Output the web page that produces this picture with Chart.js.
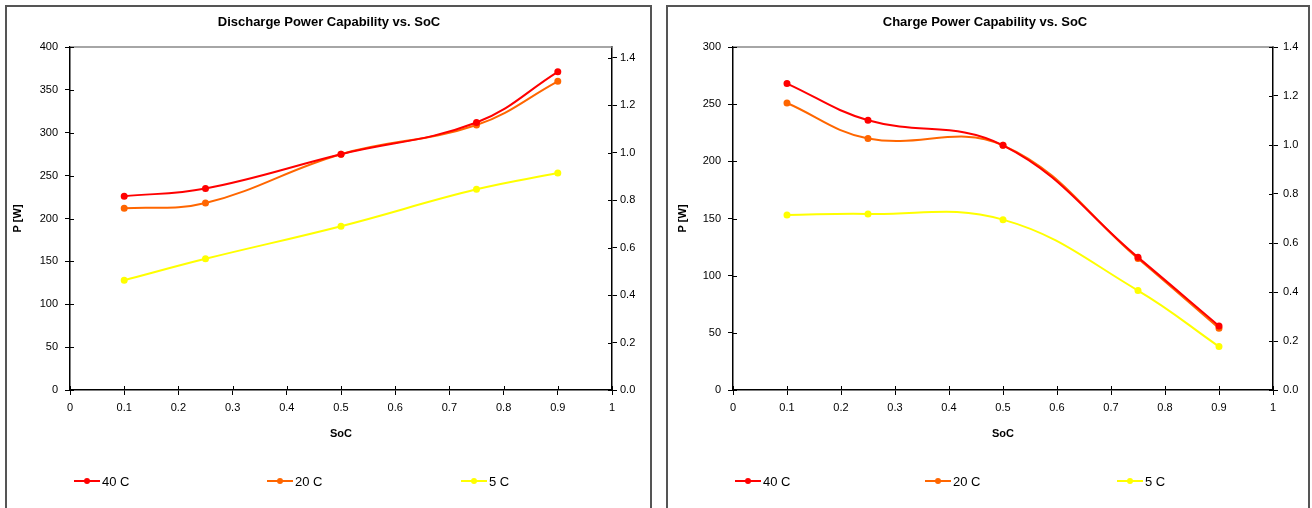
<!DOCTYPE html>
<html>
<head>
<meta charset="utf-8">
<script src="https://cdn.jsdelivr.net/npm/chart.js@4/dist/chart.umd.min.js"></script>
<style>
  html, body { margin: 0; padding: 0; background: #fff; }
  body { position: relative; width: 1312px; height: 508px; overflow: hidden; }
  .panel { position: absolute; top: 5px; height: 560px; border: 2px solid #555; box-sizing: border-box; }
  canvas { position: absolute; top: 0; }
</style>
</head>
<body>
<div class="panel" style="left:5px; width:647px;"></div>
<div class="panel" style="left:666px; width:644px;"></div>
<canvas id="dischargeChart" width="658" height="508" style="left:0"></canvas>
<canvas id="chargeChart" width="654" height="508" style="left:658px"></canvas>
<script>
// data
const socValues = [0.1, 0.25, 0.5, 0.75, 0.9];
const seriesNames = ["40 C", "20 C", "5 C"];
const seriesColors = ["#FF0000", "#FF6600", "#FFFF00"];

const discharge40 = [226, 235, 275, 312, 371];
const discharge20 = [212, 218, 275, 309, 360];
const discharge5 = [128, 153, 191, 234, 253];

const charge40 = [268, 236, 214, 116, 56];
const charge20 = [251, 220, 214, 115, 54];
const charge5 = [153, 154, 149, 87, 38];

const socTicks = [0, 0.1, 0.2, 0.3, 0.4, 0.5, 0.6, 0.7, 0.8, 0.9, 1];
const dischargeTicks = [0, 50, 100, 150, 200, 250, 300, 350, 400];
const chargeTicks = [0, 50, 100, 150, 200, 250, 300];
const rightTicks = [0, 0.2, 0.4, 0.6, 0.8, 1.0, 1.2, 1.4];

const FONT = "'Liberation Sans', Arial, sans-serif";

// Excel-like legend: line with marker, fixed x positions
const excelLegend = {
  id: "excelLegend",
  afterDraw(chart, args, opts) {
    const ctx = chart.ctx;
    ctx.save();
    chart.data.datasets.forEach((ds, i) => {
      const x = opts.x[i], y = opts.y;
      ctx.strokeStyle = ds.borderColor;
      ctx.lineWidth = 2;
      ctx.beginPath();
      ctx.moveTo(x, y);
      ctx.lineTo(x + 26, y);
      ctx.stroke();
      ctx.fillStyle = ds.borderColor;
      ctx.beginPath();
      ctx.arc(x + 13, y, 3, 0, Math.PI * 2);
      ctx.fill();
      ctx.fillStyle = "#000";
      ctx.font = "13px " + FONT;
      ctx.textBaseline = "middle";
      ctx.fillText(ds.label, x + 28, y + 1);
    });
    ctx.restore();
  }
};

// tick marks crossing into the plot area + grey top edge
const plotFrame = {
  id: "plotFrame",
  beforeDatasetsDraw(chart) {
    const ctx = chart.ctx;
    const a = chart.chartArea;
    ctx.save();
    ctx.strokeStyle = "#888";
    ctx.lineWidth = 1.5;
    ctx.beginPath();
    ctx.moveTo(a.left, a.top);
    ctx.lineTo(a.right, a.top);
    ctx.stroke();
    ctx.strokeStyle = "#000";
    ctx.lineWidth = 1;
    ctx.beginPath();
    chart.scales.x.ticks.forEach(t => {
      const px = Math.round(chart.scales.x.getPixelForValue(t.value)) + 0.5;
      ctx.moveTo(px, a.bottom);
      ctx.lineTo(px, a.bottom - 4);
    });
    chart.scales.y.ticks.forEach(t => {
      const py = Math.round(chart.scales.y.getPixelForValue(t.value)) + 0.5;
      ctx.moveTo(a.left, py);
      ctx.lineTo(a.left + 4, py);
    });
    chart.scales.y2.ticks.forEach(t => {
      const py = Math.round(chart.scales.y2.getPixelForValue(t.value)) + 0.5;
      ctx.moveTo(a.right, py);
      ctx.lineTo(a.right - 4, py);
    });
    ctx.stroke();
    ctx.restore();
  }
};

function makeDatasets(values) {
  return values.map((vals, i) => ({
    label: seriesNames[i],
    data: socValues.map((s, j) => ({ x: s, y: vals[j] })),
    borderColor: seriesColors[i],
    backgroundColor: seriesColors[i],
    borderWidth: 2,
    pointRadius: 2.5,
    pointHoverRadius: 2.5,
    tension: 0.4,
    yAxisID: "y"
  }));
}

function makeConfig(title, values, leftTicks, leftMax, rightMax, lay) {
  const tickFont = { family: FONT, size: 11 };
  const axisTitleFont = { family: FONT, size: 11, weight: "bold" };
  return {
    type: "line",
    data: { datasets: makeDatasets(values) },
    options: {
      responsive: false,
      animation: false,
      events: [],
      layout: { padding: 0 },
      plugins: {
        legend: { display: false },
        tooltip: { enabled: false },
        title: {
          display: true,
          text: title,
          color: "#000",
          font: { family: FONT, size: 13, weight: "bold" },
          padding: { top: 15, bottom: 16.4 }
        },
        excelLegend: { x: lay.legendX, y: 481 }
      },
      scales: {
        x: {
          type: "linear",
          min: 0,
          max: 1,
          afterBuildTicks: axis => { axis.ticks = socTicks.map(v => ({ value: v })); },
          afterFit: scale => { scale.height = 118; },
          grid: { drawOnChartArea: false, color: "#000", tickLength: 5 },
          border: { color: "#000", width: 1.5 },
          ticks: { color: "#000", font: tickFont, padding: 6, maxRotation: 0, callback: v => String(v) },
          title: { display: true, text: "SoC", color: "#000", font: axisTitleFont, padding: { top: 0, bottom: 67 } }
        },
        y: {
          type: "linear",
          position: "left",
          min: 0,
          max: leftMax,
          afterBuildTicks: axis => { axis.ticks = leftTicks.map(v => ({ value: v })); },
          afterFit: scale => { scale.width = lay.left; },
          grid: { drawOnChartArea: false, color: "#000", tickLength: 5 },
          border: { color: "#000", width: 1.5 },
          ticks: { color: "#000", font: tickFont, padding: 7, callback: v => String(v) },
          title: { display: true, text: "P [W]", color: "#000", font: axisTitleFont, padding: { top: lay.titlePad, bottom: 0 } }
        },
        y2: {
          type: "linear",
          position: "right",
          min: 0,
          max: rightMax,
          afterBuildTicks: axis => { axis.ticks = rightTicks.map(v => ({ value: v })); },
          afterFit: scale => { scale.width = lay.right; },
          grid: { drawOnChartArea: false, color: "#000", tickLength: 5 },
          border: { color: "#000", width: 1.5 },
          ticks: { color: "#000", font: tickFont, padding: lay.rightPad, callback: v => v.toFixed(1) }
        }
      }
    },
    plugins: [plotFrame, excelLegend]
  };
}

new Chart(document.getElementById("dischargeChart"),
  makeConfig("Discharge Power Capability vs. SoC",
    [discharge40, discharge20, discharge5], dischargeTicks, 400, 1.446,
    { left: 70, right: 46, titlePad: 11, rightPad: 3, legendX: [74, 267, 461] }));

new Chart(document.getElementById("chargeChart"),
  makeConfig("Charge Power Capability vs. SoC",
    [charge40, charge20, charge5], chargeTicks, 300, 1.4,
    { left: 75, right: 39, titlePad: 18, rightPad: 5, legendX: [77, 267, 459] }));
</script>
</body>
</html>
